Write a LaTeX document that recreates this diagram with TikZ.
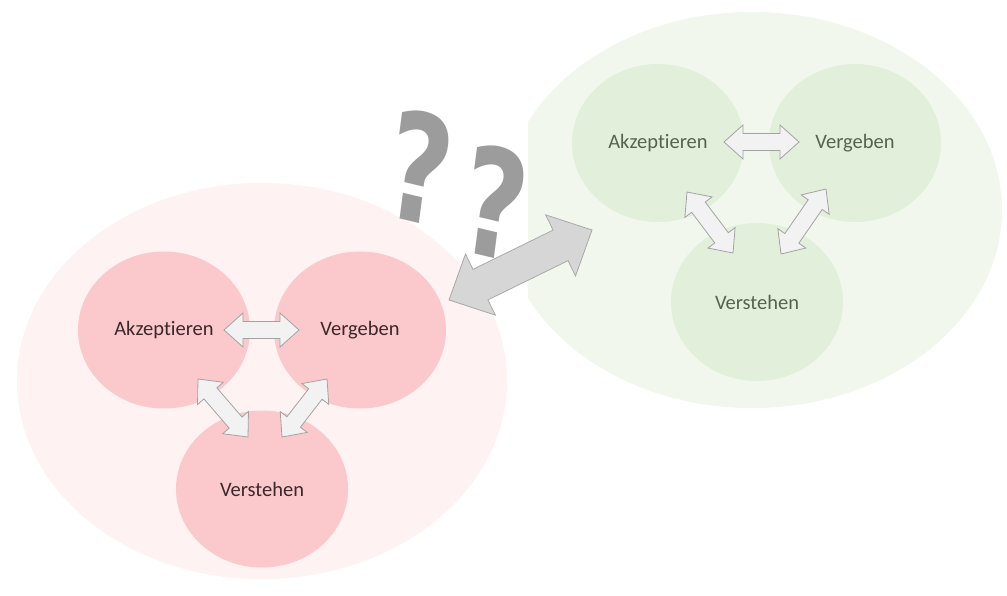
\documentclass[tikz,border=0pt]{standalone}
\usepackage{fontspec}
\setmainfont{Carlito}[Ligatures=NoCommon]
\newfontfamily\qfont{DejaVu Sans}
\usetikzlibrary{calc,shapes.geometric}
\definecolor{pinkbg}{HTML}{FEF2F2}
\definecolor{pinkc}{HTML}{FBC9CB}
\definecolor{greenbg}{HTML}{F2F7EE}
\definecolor{greenc}{HTML}{E2EFDA}
\definecolor{pinktxt}{HTML}{3A282B}
\definecolor{greentxt}{HTML}{56634F}
\definecolor{arrfill}{HTML}{F2F2F2}
\definecolor{arrline}{HTML}{A3A3A3}
\definecolor{bigfill}{HTML}{D6D6D6}
\definecolor{bigline}{HTML}{A9A9A9}
\definecolor{qcol}{HTML}{9C9C9C}
\newcommand{\dblarr}[6]{%
  \path (#2) coordinate (t1) (#3) coordinate (t2)
    ($(t1)!#4!(t2)$) coordinate (h1)
    ($(t2)!#4!(t1)$) coordinate (h2);
  \draw[#1] (t1) -- ($(h1)!#5!90:(t2)$) -- ($(h1)!#6!90:(t2)$)
    -- ($(h2)!#6!-90:(t1)$) -- ($(h2)!#5!-90:(t1)$) -- (t2)
    -- ($(h2)!#5!90:(t1)$) -- ($(h2)!#6!90:(t1)$)
    -- ($(h1)!#6!-90:(t2)$) -- ($(h1)!#5!-90:(t2)$) -- cycle;
}
\tikzset{
  pinkcirc/.style={ellipse, fill=pinkc, minimum width=172pt, minimum height=157pt, inner sep=0pt, text=pinktxt, font=\fontsize{20.5}{24}\selectfont},
  greencirc/.style={ellipse, fill=greenc, minimum width=172pt, minimum height=158pt, inner sep=0pt, text=greentxt, font=\fontsize{20.5}{24}\selectfont},
  smallarr/.style={fill=arrfill, draw=arrline, line width=0.8pt, line join=miter},
  bigarr/.style={fill=bigfill, draw=bigline, line width=0.8pt, line join=miter},
  qmark/.style={text=qcol, font=\qfont\bfseries\fontsize{150}{150}\selectfont, inner sep=0pt, xscale=0.74}
}
\begin{document}
\begin{tikzpicture}[x=1pt,y=-1pt]
\useasboundingbox (0,0) rectangle (1007,596);
\fill[white] (0,0) rectangle (1007,596);
% green group background (clipped on its left)
\begin{scope}
  \clip (528,0) rectangle (1007,596);
  \fill[greenbg] (752,210) ellipse [x radius=250, y radius=198];
\end{scope}
% pink group background
\fill[pinkbg] (262,381) ellipse [x radius=245, y radius=198];
% question marks
\node[qmark, rotate=-10] (q) at (458,185) {?\kern19pt\raisebox{-16.6pt}{?}};
% pink circles
\node[pinkcirc] (pa) at (164,330) {Akzeptieren};
\node[pinkcirc] (pv) at (360,330) {Vergeben};
\node[pinkcirc] (ps) at (262,489) {Verstehen};
% green circles
\node[greencirc] (ga) at (658,143) {Akzeptieren};
\node[greencirc] (gv) at (855,143) {Vergeben};
\node[greencirc] (gs) at (757,302) {Verstehen};
% arrow end points
\coordinate (pa1) at (224,330); \coordinate (pv1) at (299,330);
\coordinate (pa2) at (198,379); \coordinate (ps2) at (248,437);
\coordinate (pv3) at (327,379); \coordinate (ps3) at (282,437);
\coordinate (ga1) at (724,142); \coordinate (gv1) at (799,142);
\coordinate (ga2) at (687,192); \coordinate (gs2) at (733,253);
\coordinate (gv3) at (826,189); \coordinate (gs3) at (781,254);
\coordinate (bl) at (449,300); \coordinate (br) at (592,230);
% small arrows
\dblarr{smallarr}{pa1}{pv1}{19pt}{17pt}{8.5pt}
\dblarr{smallarr}{pa2}{ps2}{19pt}{17pt}{8.5pt}
\dblarr{smallarr}{pv3}{ps3}{19pt}{17pt}{8.5pt}
\dblarr{smallarr}{ga1}{gv1}{19pt}{17pt}{8.5pt}
\dblarr{smallarr}{ga2}{gs2}{19pt}{17pt}{8.5pt}
\dblarr{smallarr}{gv3}{gs3}{19pt}{17pt}{8.5pt}
% big arrow
\dblarr{bigarr}{bl}{br}{35pt}{34pt}{17pt}
\end{tikzpicture}
\end{document}
